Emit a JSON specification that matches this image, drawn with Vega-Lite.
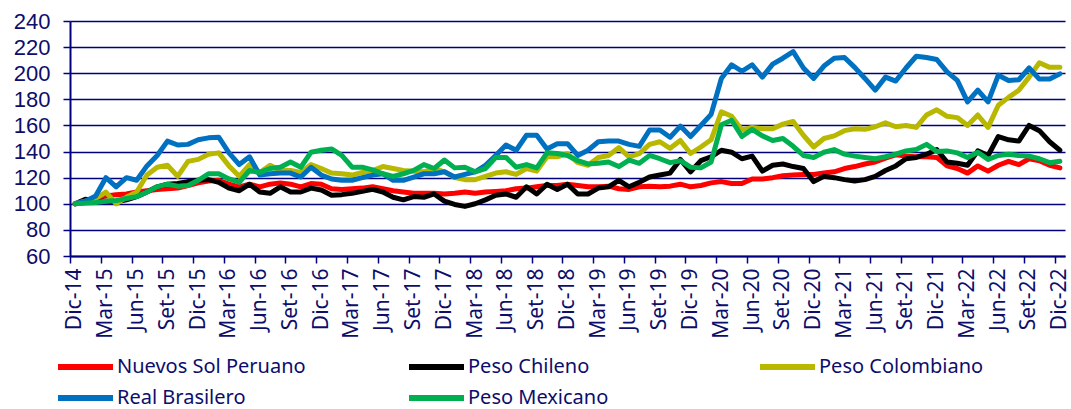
{
  "$schema": "https://vega.github.io/schema/vega-lite/v6.json",
  "width": 995,
  "height": 235,
  "autosize": {"type": "none"},
  "padding": {"left": 70, "top": 21, "right": 6, "bottom": 153},
  "background": "white",
  "config": {"view": {"stroke": null}},
  "data": {"values": [
    {"m":"Dic-14","s1":100,"s2":100,"s3":100,"s4":100,"s5":100},
    {"m":"Ene-15","s1":101,"s2":103.5,"s3":102,"s4":102,"s5":100.5},
    {"m":"Feb-15","s1":104,"s2":102,"s3":104,"s4":106,"s5":101},
    {"m":"Mar-15","s1":106,"s2":102,"s3":109,"s4":120,"s5":102},
    {"m":"Abr-15","s1":107,"s2":101.5,"s3":100,"s4":113,"s5":102.5},
    {"m":"May-15","s1":107.5,"s2":103,"s3":105,"s4":120,"s5":104},
    {"m":"Jun-15","s1":109,"s2":105.5,"s3":109,"s4":118,"s5":105.5},
    {"m":"Jul-15","s1":110,"s2":109,"s3":122,"s4":129,"s5":109},
    {"m":"Ago-15","s1":111,"s2":113,"s3":128,"s4":137,"s5":113},
    {"m":"Set-15","s1":111.5,"s2":115,"s3":129.5,"s4":148,"s5":115},
    {"m":"Oct-15","s1":112,"s2":115.5,"s3":121,"s4":145,"s5":113.5},
    {"m":"Nov-15","s1":114,"s2":117,"s3":132.5,"s4":145.5,"s5":114},
    {"m":"Dic-15","s1":116,"s2":118,"s3":134,"s4":149,"s5":118},
    {"m":"Ene-16","s1":117.5,"s2":118.5,"s3":138,"s4":150.5,"s5":123},
    {"m":"Feb-16","s1":118,"s2":116.5,"s3":139,"s4":151,"s5":123},
    {"m":"Mar-16","s1":115,"s2":112,"s3":129,"s4":139,"s5":119},
    {"m":"Abr-16","s1":113,"s2":110,"s3":121,"s4":130,"s5":116.5},
    {"m":"May-16","s1":115,"s2":115,"s3":130,"s4":136,"s5":125.5},
    {"m":"Jun-16","s1":113,"s2":109,"s3":124,"s4":122,"s5":124},
    {"m":"Jul-16","s1":115,"s2":108,"s3":129.5,"s4":123,"s5":127},
    {"m":"Ago-16","s1":116,"s2":113,"s3":125.5,"s4":123.5,"s5":128},
    {"m":"Set-16","s1":115,"s2":109,"s3":125.5,"s4":123.5,"s5":132},
    {"m":"Oct-16","s1":113,"s2":109,"s3":124,"s4":120.5,"s5":128},
    {"m":"Nov-16","s1":115.5,"s2":112,"s3":130,"s4":128,"s5":139.5},
    {"m":"Dic-16","s1":115,"s2":110.5,"s3":127,"s4":122,"s5":141},
    {"m":"Ene-17","s1":111.5,"s2":106.5,"s3":123.5,"s4":119,"s5":142},
    {"m":"Feb-17","s1":111,"s2":107,"s3":123,"s4":118,"s5":137},
    {"m":"Mar-17","s1":111.5,"s2":108,"s3":122,"s4":118,"s5":128},
    {"m":"Abr-17","s1":112,"s2":109.5,"s3":124,"s4":120,"s5":128},
    {"m":"May-17","s1":113,"s2":111,"s3":125.5,"s4":122,"s5":126},
    {"m":"Jun-17","s1":111.5,"s2":109,"s3":128.5,"s4":123,"s5":123},
    {"m":"Jul-17","s1":110,"s2":105,"s3":127,"s4":118,"s5":121},
    {"m":"Ago-17","s1":109,"s2":103,"s3":125.5,"s4":118,"s5":123},
    {"m":"Set-17","s1":108,"s2":105.5,"s3":125,"s4":120.5,"s5":125.5},
    {"m":"Oct-17","s1":108,"s2":105,"s3":124.5,"s4":123,"s5":130},
    {"m":"Nov-17","s1":108,"s2":107.5,"s3":127,"s4":123,"s5":127},
    {"m":"Dic-17","s1":107.5,"s2":102,"s3":124.5,"s4":124.5,"s5":133.5},
    {"m":"Ene-18","s1":108,"s2":99.5,"s3":120,"s4":120.5,"s5":127.5},
    {"m":"Feb-18","s1":109,"s2":98,"s3":118.5,"s4":122.5,"s5":128},
    {"m":"Mar-18","s1":108,"s2":100,"s3":118.5,"s4":124.5,"s5":124.5},
    {"m":"Abr-18","s1":109,"s2":103,"s3":121,"s4":129.5,"s5":127},
    {"m":"May-18","s1":109.5,"s2":106.5,"s3":123.5,"s4":137,"s5":135.5},
    {"m":"Jun-18","s1":110,"s2":107.5,"s3":124.5,"s4":145,"s5":135.5},
    {"m":"Jul-18","s1":111.5,"s2":105,"s3":122.5,"s4":141,"s5":128},
    {"m":"Ago-18","s1":112,"s2":113,"s3":127,"s4":152.5,"s5":130},
    {"m":"Set-18","s1":113,"s2":107.5,"s3":125,"s4":152.5,"s5":127.5},
    {"m":"Oct-18","s1":114,"s2":115,"s3":136,"s4":142,"s5":139},
    {"m":"Nov-18","s1":114,"s2":111,"s3":136,"s4":146,"s5":138.5},
    {"m":"Dic-18","s1":115,"s2":115,"s3":138.5,"s4":146,"s5":137},
    {"m":"Ene-19","s1":114,"s2":107.5,"s3":131.5,"s4":137,"s5":133},
    {"m":"Feb-19","s1":113,"s2":107.5,"s3":129.5,"s4":141,"s5":130.5},
    {"m":"Mar-19","s1":113,"s2":112,"s3":135.5,"s4":147.5,"s5":131},
    {"m":"Abr-19","s1":113.5,"s2":113,"s3":137,"s4":148,"s5":132},
    {"m":"May-19","s1":111.5,"s2":118,"s3":143,"s4":148,"s5":128.5},
    {"m":"Jun-19","s1":111,"s2":113,"s3":136,"s4":145.5,"s5":133.5},
    {"m":"Jul-19","s1":113,"s2":116.5,"s3":138.5,"s4":144,"s5":131},
    {"m":"Ago-19","s1":113.5,"s2":120.5,"s3":145.5,"s4":156.5,"s5":137},
    {"m":"Set-19","s1":113,"s2":122,"s3":147.5,"s4":156.5,"s5":134.5},
    {"m":"Oct-19","s1":113.5,"s2":123.5,"s3":142.5,"s4":151,"s5":131.5},
    {"m":"Nov-19","s1":115,"s2":134,"s3":148.5,"s4":159.5,"s5":133},
    {"m":"Dic-19","s1":113,"s2":124.5,"s3":138.5,"s4":151.5,"s5":128},
    {"m":"Ene-20","s1":114,"s2":133,"s3":143.5,"s4":160,"s5":127.5},
    {"m":"Feb-20","s1":116,"s2":136,"s3":149,"s4":168.5,"s5":132},
    {"m":"Mar-20","s1":117,"s2":141,"s3":170.5,"s4":196,"s5":160.5},
    {"m":"Abr-20","s1":115.5,"s2":139.5,"s3":167,"s4":206.5,"s5":164},
    {"m":"May-20","s1":115.5,"s2":134.5,"s3":156.5,"s4":201.5,"s5":151.5},
    {"m":"Jun-20","s1":119,"s2":136.5,"s3":158.5,"s4":206.5,"s5":157},
    {"m":"Jul-20","s1":119,"s2":125,"s3":157.5,"s4":197,"s5":152},
    {"m":"Ago-20","s1":120,"s2":129.5,"s3":157.5,"s4":207,"s5":148.5},
    {"m":"Set-20","s1":121.5,"s2":130.5,"s3":161,"s4":211.5,"s5":150},
    {"m":"Oct-20","s1":122,"s2":128.5,"s3":163,"s4":216.5,"s5":144},
    {"m":"Nov-20","s1":122.5,"s2":127,"s3":152.5,"s4":204,"s5":137},
    {"m":"Dic-20","s1":122.5,"s2":117,"s3":143.5,"s4":196,"s5":135.5},
    {"m":"Ene-21","s1":123.5,"s2":121,"s3":150,"s4":205.5,"s5":139.5},
    {"m":"Feb-21","s1":124.5,"s2":120,"s3":152,"s4":211.5,"s5":141.5},
    {"m":"Mar-21","s1":127,"s2":118.5,"s3":156,"s4":212,"s5":138},
    {"m":"Abr-21","s1":128.5,"s2":117.5,"s3":157.5,"s4":204.5,"s5":136.5},
    {"m":"May-21","s1":130.5,"s2":118.5,"s3":157,"s4":196,"s5":135.5},
    {"m":"Jun-21","s1":132,"s2":121,"s3":159,"s4":187,"s5":134.5},
    {"m":"Jul-21","s1":135,"s2":125.5,"s3":162,"s4":197,"s5":136},
    {"m":"Ago-21","s1":137.5,"s2":129,"s3":159,"s4":194,"s5":138},
    {"m":"Set-21","s1":136.5,"s2":134.5,"s3":160,"s4":204,"s5":140.5},
    {"m":"Oct-21","s1":136,"s2":135.5,"s3":158.5,"s4":213,"s5":141.5},
    {"m":"Nov-21","s1":136,"s2":138,"s3":168,"s4":212,"s5":145.5},
    {"m":"Dic-21","s1":135.5,"s2":141.5,"s3":172,"s4":210.5,"s5":140},
    {"m":"Ene-22","s1":129,"s2":132,"s3":167,"s4":201,"s5":140.5},
    {"m":"Feb-22","s1":127,"s2":131,"s3":166,"s4":194.5,"s5":139},
    {"m":"Mar-22","s1":123.5,"s2":129.5,"s3":160,"s4":178,"s5":135.5},
    {"m":"Abr-22","s1":129,"s2":140.5,"s3":168,"s4":187,"s5":139.5},
    {"m":"May-22","s1":125,"s2":137,"s3":158.5,"s4":178,"s5":134},
    {"m":"Jun-22","s1":129.5,"s2":151.5,"s3":175.5,"s4":198.5,"s5":137},
    {"m":"Jul-22","s1":132.5,"s2":149,"s3":181.5,"s4":194.5,"s5":138},
    {"m":"Ago-22","s1":130,"s2":148,"s3":187,"s4":195,"s5":137},
    {"m":"Set-22","s1":134.5,"s2":160,"s3":197,"s4":204,"s5":136.5},
    {"m":"Oct-22","s1":133,"s2":156,"s3":208,"s4":195.5,"s5":134.5},
    {"m":"Nov-22","s1":129.5,"s2":147.5,"s3":204.5,"s4":195.5,"s5":131.5},
    {"m":"Dic-22","s1":127.5,"s2":141,"s3":204.5,"s4":199.5,"s5":132.5}
  ]},
  "transform": [
    {"fold": ["s1", "s2", "s3", "s4", "s5"], "as": ["serie", "valor"]}
  ],
  "mark": {"type": "line", "strokeWidth": 5, "strokeJoin": "round", "strokeCap": "round"},
  "encoding": {
    "x": {
      "field": "m",
      "type": "ordinal",
      "sort": null,
      "scale": {"type": "point", "padding": 0.5},
      "axis": {
        "title": null,
        "values": ["Dic-14","Mar-15","Jun-15","Set-15","Dic-15","Mar-16","Jun-16","Set-16","Dic-16","Mar-17","Jun-17","Set-17","Dic-17","Mar-18","Jun-18","Set-18","Dic-18","Mar-19","Jun-19","Set-19","Dic-19","Mar-20","Jun-20","Set-20","Dic-20","Mar-21","Jun-21","Set-21","Dic-21","Mar-22","Jun-22","Set-22","Dic-22"],
        "labelAngle": -90,
        "labelFont": "Noto Sans",
        "labelFontSize": 21,
        "labelColor": "#0d0d6b",
        "labelPadding": 5,
        "labelOverlap": false,
        "labelBound": false,
        "tickOffset": -5.13,
        "labelOffset": 5,
        "tickSize": 7,
        "tickWidth": 1.5,
        "tickColor": "#000080",
        "domainColor": "#000080",
        "domainWidth": 2,
        "grid": false
      }
    },
    "y": {
      "field": "valor",
      "type": "quantitative",
      "scale": {"domain": [60, 240], "nice": false, "zero": false},
      "axis": {
        "title": null,
        "values": [60, 80, 100, 120, 140, 160, 180, 200, 220, 240],
        "labelFont": "Liberation Sans",
        "labelFontSize": 22,
        "labelColor": "#0d0d6b",
        "labelPadding": 13,
        "tickSize": 7,
        "tickWidth": 1.5,
        "tickColor": "#000080",
        "domainColor": "#000080",
        "domainWidth": 2,
        "grid": true,
        "gridColor": "#000080",
        "gridWidth": 1.5
      }
    },
    "color": {
      "field": "serie",
      "type": "nominal",
      "scale": {
        "domain": ["s1", "s2", "s3", "s4", "s5"],
        "range": ["#ff0000", "#000000", "#b8b800", "#0070c0", "#00b050"]
      },
      "legend": {
        "title": null,
        "orient": "none",
        "legendX": -15,
        "legendY": 335,
        "direction": "horizontal",
        "columns": 3,
        "gridAlign": "all",
        "columnPadding": 100,
        "rowPadding": 9,
        "clipHeight": 22,
        "symbolType": "stroke",
        "symbolSize": 3025,
        "symbolStrokeWidth": 6,
        "labelOffset": 1,
        "labelFont": "Noto Sans",
        "labelFontSize": 20,
        "labelColor": "#0d0d6b",
        "labelLimit": 400,
        "labelExpr": "datum.label == 's1' ? 'Nuevos Sol Peruano' : datum.label == 's2' ? 'Peso Chileno' : datum.label == 's3' ? 'Peso Colombiano' : datum.label == 's4' ? 'Real Brasilero' : 'Peso Mexicano'"
      }
    }
  }
}
